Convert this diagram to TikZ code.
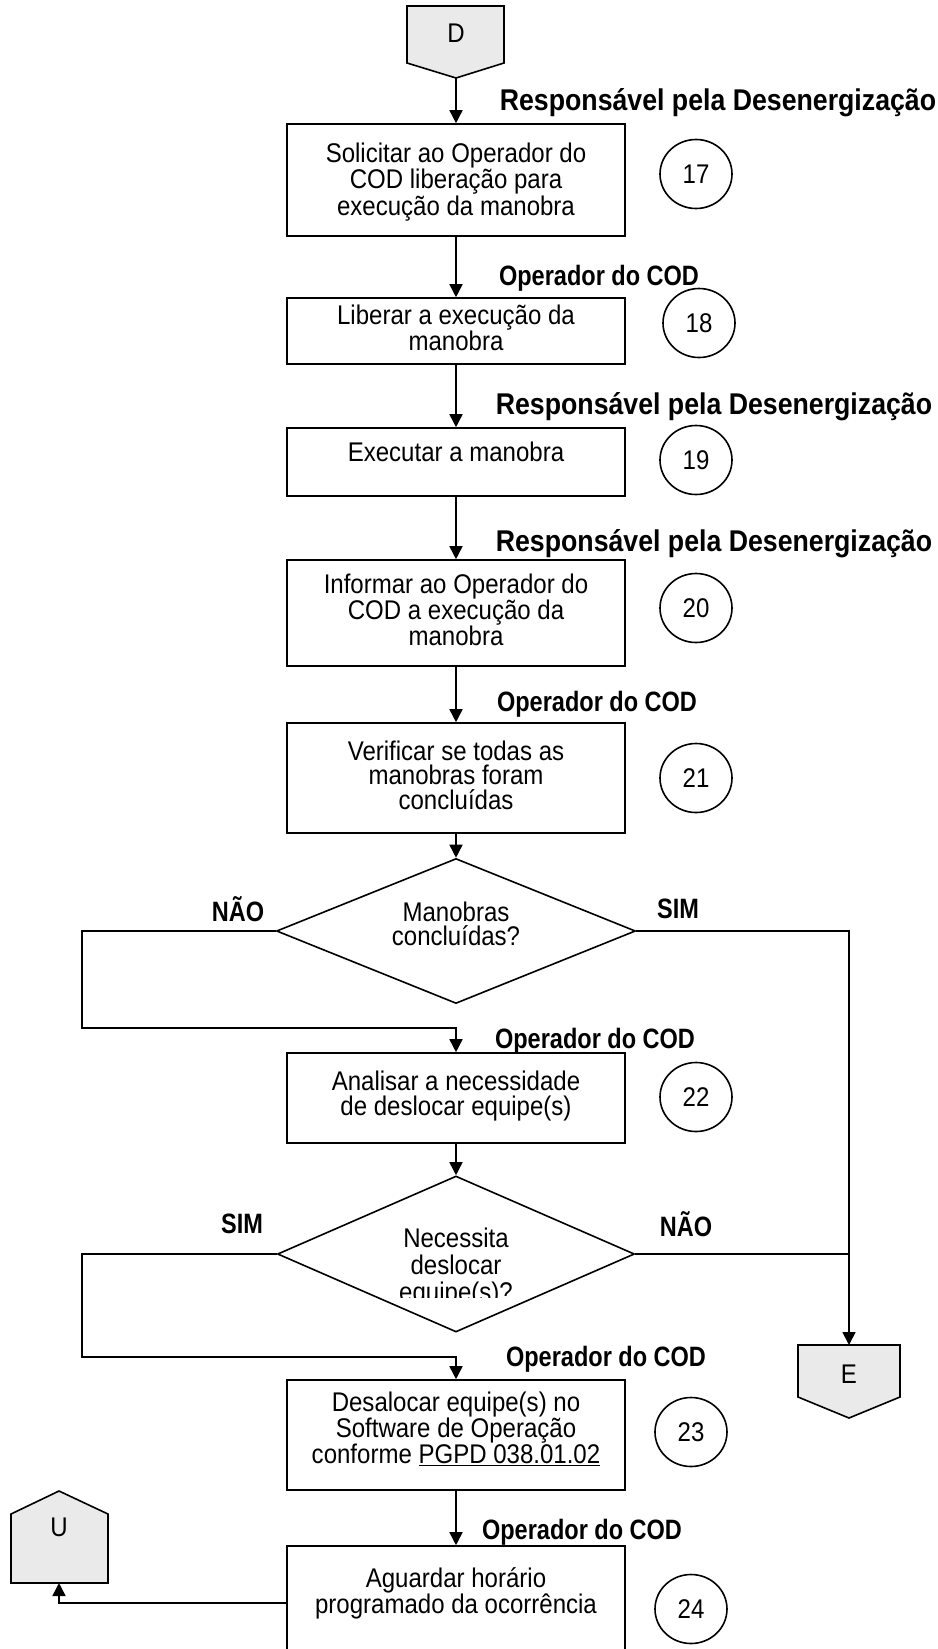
\documentclass[tikz,border=0pt]{standalone}
\usepackage{fontspec}
\setmainfont{Liberation Sans}[FakeStretch=0.89]
\newfontfamily\rolefont{Liberation Sans}[FakeStretch=0.84]
\usetikzlibrary{arrows.meta,shapes.geometric}
\definecolor{connfill}{HTML}{EAEAEA}
\tikzset{
  box/.style={draw, line width=1.6pt, rectangle, minimum width=338pt, inner sep=0pt},
  txt/.style={align=center, inner sep=0pt, font=\fontsize{27}{24.5}\selectfont},
  resp/.style={inner sep=0pt, font=\bfseries\fontsize{30}{30}\selectfont},
  role/.style={inner sep=0pt, font=\rolefont\bfseries\fontsize{28}{28}\selectfont},
  num/.style={draw, line width=1.6pt, ellipse, minimum width=72pt, minimum height=69pt, inner sep=0pt, font=\fontsize{27}{25}\selectfont},
  arr/.style={line width=1.6pt, -{Triangle[length=13pt,width=13pt]}},
  ln/.style={line width=1.6pt},
  conn/.style={draw, line width=1.6pt, fill=connfill, line join=miter},
  dec/.style={draw, diamond, line width=1.6pt, inner sep=0pt},
}
\begin{document}
\begin{tikzpicture}[x=1pt,y=-1pt]
\clip (0,0) rectangle (937,1649);
\fill[white] (0,0) rectangle (937,1649);

% off-page connector D
\draw[conn] (407,6) -- (504,6) -- (504,63) -- (456,78) -- (407,63) -- cycle;
\node[txt] (Dl) at (456,33) {D};
\coordinate (Dtip) at (456,78);

% boxes
\node[box, minimum height=112pt] (b17) at (456,180) {};
\node[box, minimum height=66pt]  (b18) at (456,331) {};
\node[box, minimum height=68pt]  (b19) at (456,462) {};
\node[box, minimum height=106pt] (b20) at (456,613) {};
\node[box, minimum height=110pt] (b21) at (456,778) {};
\node[box, minimum height=90pt]  (b22) at (456,1098) {};
\node[box, minimum height=110pt] (b23) at (456,1435) {};
\node[box, minimum height=114pt] (b24) at (456,1603) {};

% box texts
\node[txt] (t17) at (456,182) {Solicitar ao Operador do\\COD liberação para\\execução da manobra};
\node[txt] (t18) at (456,328) {Liberar a execução da\\manobra};
\node[txt] (t19) at (456,452) {Executar a manobra};
\node[txt] (t20) at (456,610) {Informar ao Operador do\\COD a execução da\\manobra};
\node[txt] (t21) at (456,775) {Verificar se todas as\\manobras foram\\concluídas};
\node[txt] (t22) at (456,1096) {Analisar a necessidade\\de deslocar equipe(s)};
\node[txt] (t23) at (456,1429) {Desalocar equipe(s) no\\Software de Operação\\conforme \underline{PGPD 038.01.02}};
\node[txt] (t24) at (456,1593) {Aguardar horário\\programado da ocorrência};

% step numbers
\node[num] (c17) at (696,174) {17};
\node[num] (c18) at (699,323) {18};
\node[num] (c19) at (696,460) {19};
\node[num] (c20) at (696,608) {20};
\node[num] (c21) at (696,778) {21};
\node[num] (c22) at (696,1097) {22};
\node[num] (c23) at (691,1432) {23};
\node[num] (c24) at (691,1609) {24};

% role labels
\node[resp] (r1) at (718,103) {Responsável pela Desenergização};
\node[role] (o1) at (599,278) {Operador do COD};
\node[resp] (r2) at (714,407) {Responsável pela Desenergização};
\node[resp] (r3) at (714,544) {Responsável pela Desenergização};
\node[role] (o2) at (597,704) {Operador do COD};
\node[role] (o3) at (595,1041) {Operador do COD};
\node[role] (o4) at (606,1359) {Operador do COD};
\node[role] (o5) at (582,1532) {Operador do COD};

% decisions
\node[dec, minimum width=359pt, minimum height=145pt] (d1) at (456,931) {};
\node[txt] (dt1) at (456,924) {Manobras\\concluídas?};
\node[dec, minimum width=357pt, minimum height=156pt] (d2) at (456,1254) {};
\begin{scope}
  \clip (280,1170) rectangle (630,1297);
  \node[txt, font=\fontsize{27}{27}\selectfont] (dt2) at (456,1268) {Necessita\\deslocar\\equipe(s)?};
\end{scope}
\node[role] (n1) at (238,909) {NÃO};
\node[role] (s1) at (678,909) {SIM};
\node[role] (s2) at (242,1224) {SIM};
\node[role] (n2) at (686,1224) {NÃO};

% off-page connector E
\draw[conn] (798,1345) -- (900,1345) -- (900,1397) -- (849,1418) -- (798,1397) -- cycle;
\node[txt] (El) at (849,1374) {E};
\coordinate (Etop) at (849,1345);

% off-page connector U
\draw[conn] (11,1583) -- (11,1514) -- (59,1491) -- (108,1514) -- (108,1583) -- cycle;
\node[txt] (Ul) at (59,1527) {U};
\coordinate (Ubot) at (59,1583);

% loop coordinates
\coordinate (cL1) at (82,1028);
\coordinate (cL2) at (82,1357);

% connectors
\draw[arr] (Dtip) -- (b17.north);
\draw[arr] (b17.south) -- (b18.north);
\draw[arr] (b18.south) -- (b19.north);
\draw[arr] (b19.south) -- (b20.north);
\draw[arr] (b20.south) -- (b21.north);
\draw[arr] (b21.south) -- (d1.north);
\draw[arr] (d1.west) -| (cL1) -| (b22.north);
\draw[arr] (d1.east) -| (Etop);
\draw[arr] (b22.south) -- (d2.north);
\draw[ln] (d2.east) -- (d2.east -| Etop);
\draw[arr] (d2.west) -| (cL2) -| (b23.north);
\draw[arr] (b23.south) -- (b24.north);
\draw[arr] (b24.west) -| (Ubot);
\end{tikzpicture}
\end{document}
